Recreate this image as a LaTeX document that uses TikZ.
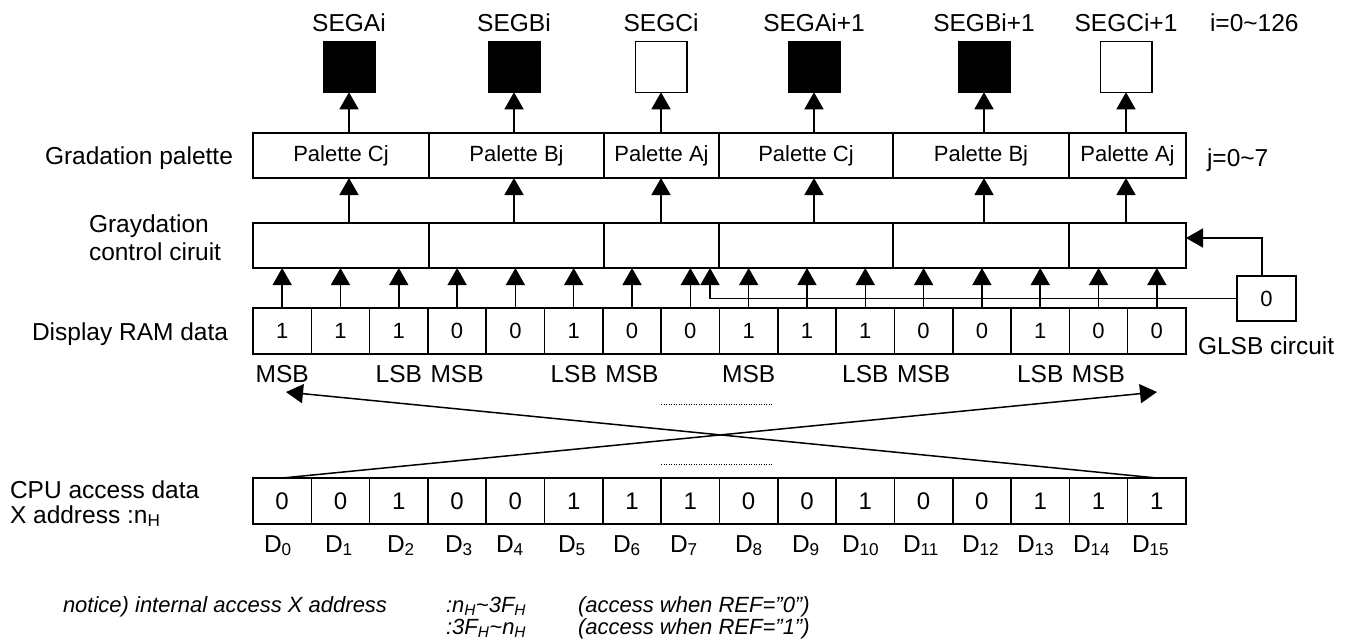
\documentclass[tikz,border=0pt]{standalone}
\usepackage{fontspec}
\setmainfont{Liberation Sans}
\usetikzlibrary{arrows.meta}
\begin{document}
\begin{tikzpicture}[x=1pt,y=-1pt,
  every node/.style={inner sep=0pt, outer sep=0pt},
  lbl/.style={font=\fontsize{24.5}{28}\selectfont},
  nt/.style={font=\fontsize{22}{26}\selectfont\itshape},
  box/.style={draw, line width=1.5pt, font=\fontsize{22}{26}\selectfont},
  cbox/.style={draw, line width=1.5pt, font=\fontsize{24}{28}\selectfont},
  seg/.style={draw, line width=1.5pt, minimum width=51.5pt, minimum height=50.5pt},
  arr/.style={line width=1.5pt, -{Triangle[width=19pt,length=17pt]}},
  dots/.style={line width=1pt, dash pattern=on 1pt off 1.5pt}]
\useasboundingbox (0,0) rectangle (1352,642);

% segments
\foreach \n/\x/\f/\t in {sa/349/black/SEGAi, sb/514/black/SEGBi, sc/661/white/SEGCi,
  sa2/814/black/SEGAi+1, sb2/984/black/SEGBi+1, sc2/1126/white/SEGCi+1} {
  \node[seg, fill=\f] (\n) at (\x,67) {};
  \node[lbl, anchor=base] (\n l) at (\x,32) {\t};
}
\node[lbl, anchor=base west] (ilbl) at (1210,32) {i=0\textasciitilde126};

% palette and graydation rows
\foreach \n/\c/\w/\t in {1/341/176/Palette Cj, 2/516.5/175/Palette Bj, 3/661.5/115/Palette Aj,
  4/806/174/Palette Cj, 5/981/176/Palette Bj, 6/1127.5/117/Palette Aj} {
  \node[box, minimum width=\w pt, minimum height=45pt] (p\n) at (\c,155.5) {\t};
  \node[box, minimum width=\w pt, minimum height=45pt] (g\n) at (\c,245.5) {};
}
\node[lbl, anchor=base west] (jlbl) at (1207,166) {j=0\textasciitilde7};
\node[lbl, anchor=base west] (gpl) at (45,164) {Gradation palette};
\node[lbl, anchor=base west] (gcl1) at (89,232) {Graydation};
\node[lbl, anchor=base west] (gcl2) at (89,260) {control ciruit};

% arrows palette -> segments, graydation -> palette
\foreach \s/\i in {sa/1, sb/2, sc/3, sa2/4, sb2/5, sc2/6} {
  \draw[arr] (p\i.north -| \s) -- (\s.south);
  \draw[arr] (g\i.north -| \s) -- (p\i.south -| \s);
}

% display RAM data
\foreach \k/\v in {0/1,1/1,2/1,3/0,4/0,5/1,6/0,7/0,8/1,9/1,10/1,11/0,12/0,13/1,14/0,15/0} {
  \node[box, minimum width=58.3pt, minimum height=46pt] (r\k) at ({253+58.3125*(\k+0.5)},331) {\v};
}
\node[lbl, anchor=base west] (dral) at (32,340) {Display RAM data};
\foreach \k in {0,...,15} {
  \draw[arr] (r\k.north) -- (r\k.north |- g1.south);
}
\foreach \k in {0,3,6,8,11,14} {
  \node[lbl, anchor=base] (msb\k) at ({253+58.3125*(\k+0.5)},382) {MSB};
}
\foreach \k in {2,5,10,13} {
  \node[lbl, anchor=base] (lsb\k) at ({253+58.3125*(\k+0.5)},382) {LSB};
}

% GLSB circuit
\node[box, minimum width=59pt, minimum height=45pt] (gl) at (1266.5,298.5) {0};
\node[lbl, anchor=base west] (gll) at (1198,354) {GLSB circuit};
\coordinate (fb) at (710,297);
\draw[arr] (gl.west) -- (gl.west -| fb) -- (fb |- g1.south);
\coordinate (gc) at (1262,238);
\draw[arr] (gl.north -| gc) -- (gc) -- (gc -| g6.east);

% CPU access data
\foreach \k/\v in {0/0,1/0,2/1,3/0,4/0,5/1,6/1,7/1,8/0,9/0,10/1,11/0,12/0,13/1,14/1,15/1} {
  \node[cbox, minimum width=58.3pt, minimum height=46pt] (c\k) at ({253+58.3125*(\k+0.5)},501) {\v};
}
\node[lbl, anchor=base west] (cpul1) at (10,498) {CPU access data};
\node[lbl, anchor=base west] (cpul2) at (10,523) {X address :n\textsubscript{H}};
\foreach \k/\x in {0/264,1/325,2/387,3/445,4/496,5/558,6/613,7/670,8/735,9/792,10/842,11/903,12/962,13/1017,14/1073,15/1132} {
  \node[lbl, anchor=base west] (dl\k) at (\x,552) {D\textsubscript{\k}};
}

% crossing arrows
\coordinate (tipR) at (1157,392);
\coordinate (tipL) at (286,392);
\draw[arr] (c0.north) -- (tipR);
\draw[arr] (c15.north) -- (tipL);

% dotted marks
\coordinate (d1a) at (661,404); \coordinate (d1b) at (773,404);
\coordinate (d2a) at (661,464); \coordinate (d2b) at (773,464);
\draw[dots] (d1a) -- (d1b);
\draw[dots] (d2a) -- (d2b);

% notice
\node[nt, anchor=base west] (n1) at (63,612) {notice) internal access X address};
\node[nt, anchor=base west] (n2) at (446,612) {:n\textsubscript{H}\textasciitilde3F\textsubscript{H}};
\node[nt, anchor=base west] (n3) at (578,612) {(access when REF=”0”)};
\node[nt, anchor=base west] (n4) at (446,634) {:3F\textsubscript{H}\textasciitilde n\textsubscript{H}};
\node[nt, anchor=base west] (n5) at (578,634) {(access when REF=”1”)};
\end{tikzpicture}
\end{document}
